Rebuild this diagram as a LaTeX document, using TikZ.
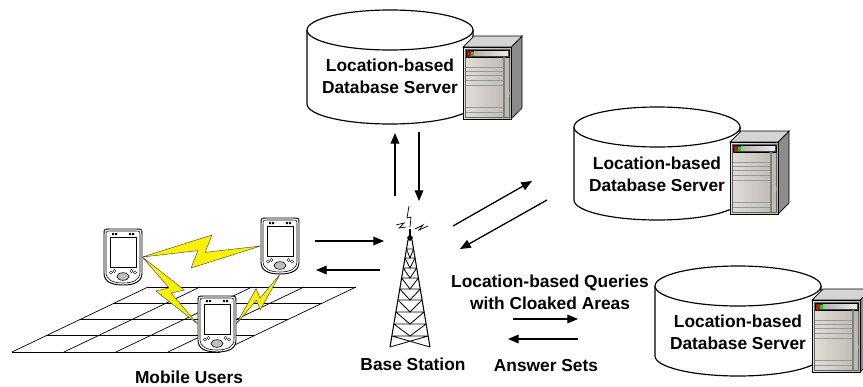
\documentclass[tikz,border=0pt]{standalone}
\usepackage{fontspec}
\setmainfont{Liberation Sans}
\usepackage{tikz}
\usetikzlibrary{calc,arrows.meta}

\definecolor{boltyellow}{RGB}{255,240,0}
\definecolor{casefront}{RGB}{226,223,216}
\definecolor{caseback}{RGB}{186,182,174}
\definecolor{caseside}{RGB}{140,140,140}
\definecolor{casetop}{RGB}{212,212,212}
\definecolor{ledred}{RGB}{230,0,0}
\definecolor{ledgreen}{RGB}{0,225,0}

\tikzset{
  flow/.style={-{Triangle[length=0.32cm,width=0.26cm]},line width=1.1pt},
  lbl/.style={font=\bfseries\fontsize{14.8}{18.8}\selectfont,align=center,inner sep=0pt},
  bolt/.style={fill=boltyellow,draw=black!70,line width=0.4pt},
  grid line/.style={line width=0.6pt},
}

% handheld: name, centre
\newcommand{\tikzPdaNode}[2]{
  \node[minimum width=1.14cm,minimum height=1.68cm,inner sep=0pt] (#1) at (#2) {};
  \begin{scope}[shift={(#2)}]
    \draw[fill=white,line width=0.8pt] (-19,-22) .. controls (-19,-28) .. (-13,-28) -- (13,-28)
      .. controls (19,-28) .. (19,-22) -- (19,16) .. controls (19,25) and (11,28) .. (0,28)
      .. controls (-11,28) and (-19,25) .. (-19,16) -- cycle;
    \draw[line width=0.5pt] (-17,-21) .. controls (-17,-26) .. (-12,-26) -- (12,-26)
      .. controls (17,-26) .. (17,-21) -- (17,15) .. controls (17,23) and (10,26) .. (0,26)
      .. controls (-10,26) and (-17,23) .. (-17,15) -- cycle;
    \draw[line width=0.5pt] (-13,-20) rectangle (13,10);
    \fill (-11,-24) rectangle (-9,-22) (-8,-24) rectangle (-6,-22)
          (6,-24) rectangle (8,-22) (9,-24) rectangle (11,-22);
    \draw[fill=gray!50,line width=0.5pt] (0,19.5) ellipse (6 and 3.8);
    \draw[line width=0.4pt] (-12,15.5) circle (1.6) (-8.5,14) circle (1.6)
          (8.5,14) circle (1.6) (12,15.5) circle (1.6);
  \end{scope}
}

% lightning between two points
\newcommand{\tikzBolt}[2]{
  \draw[bolt] (#1) -- ($(#1)!0.6!(#2) + (#1)!0.13!90:(#2) - (#1)$)
    -- ($(#1)!0.53!(#2) + (#1)!-0.01!90:(#2) - (#1)$)
    -- (#2)
    -- ($(#1)!0.4!(#2) + (#1)!-0.13!90:(#2) - (#1)$)
    -- ($(#1)!0.47!(#2) + (#1)!0.01!90:(#2) - (#1)$)
    -- cycle;
}

% database drum: name, centre x, top y, bottom y, text y
\newcommand{\tikzDbNode}[5]{
  \draw[fill=white,line width=1pt] (#2-83,#3) -- (#2-83,#4)
    arc[start angle=180,end angle=0,x radius=83,y radius=20] -- (#2+83,#3);
  \draw[fill=white,line width=1pt] (#2,#3) ellipse (83 and 20);
  \node[lbl] (#1) at (#2,#5) {Location-based\\Database Server};
}

% server case: top left corner of the front
\newcommand{\tikzServerBox}[2]{
  \begin{scope}[shift={(#1,#2)}]
    \draw[fill=caseside,line width=0.6pt] (48,0) -- (59,-11) -- (59,61) -- (48,72) -- cycle;
    \draw[fill=casetop,line width=0.6pt] (0,0) -- (11,-11) -- (59,-11) -- (48,0) -- cycle;
    \draw[left color=casefront,right color=caseback,line width=0.8pt] (0,0) rectangle (48,72);
    \draw[black!60,line width=0.4pt] (2,2) rectangle (46,70);
    \draw[fill=black!75,line width=0.4pt] (3,3) rectangle (46,10);
    \fill[left color=gray!60,right color=gray!15] (11,4.5) rectangle (45,8.5);
    \fill[ledred] (4,4.5) rectangle (7.5,8.5);
    \fill[ledgreen] (7.5,4.5) rectangle (11,8.5);
    \foreach \v in {20,24,28,33,38,60,65}
      \draw[black!40,line width=0.5pt] (3,\v) -- (40,\v);
    \fill[black!25] (45,47) ellipse (1.5 and 4);
    \draw[black!50,line width=1.2pt] (41,10) -- (41,70);
    \fill[ledgreen] (41,63) circle (0.9);
  \end{scope}
}

\begin{document}
\begin{tikzpicture}[x=0.03cm,y=-0.03cm,semithick]
  \clip (0,0) rectangle (863,386);

  %cells under the users
  \foreach \f in {0,0.25,0.5,0.75,1} {
    \draw[grid line] ($(148,287)!\f!(12,352)$) -- ($(356,287)!\f!(220,352)$);
    \draw[grid line] ($(148,287)!\f!(356,287)$) -- ($(12,352)!\f!(220,352)$);
  }

  %users
  \tikzPdaNode{pda1}{123,257}
  \tikzPdaNode{pda2}{280,246}
  \tikzPdaNode{pda3}{217,324}
  \tikzBolt{pda1.east}{pda2.west}
  \tikzBolt{pda1.east}{pda3.west}
  \tikzBolt{pda3.east}{pda2.south}
  \node[lbl] (users) at (189,377) {Mobile Users};

  %base station
  \draw[line width=0.9pt] (410,229) -- (410,236);
  \fill (410,238) circle (2.8);
  \draw[line width=0.9pt] (408,240) -- (390,347) (412,240) -- (430,347);
  \foreach \ya/\yb in {249/258,258/268,268/278,278/289,289/300,300/312,312/324,324/336} {
    \pgfmathsetmacro\la{408-18*(\ya-240)/107}
    \pgfmathsetmacro\ra{412+18*(\ya-240)/107}
    \draw[line width=0.7pt] (\la,\ya) -- (\ra,\ya) (\la,\ya) -- (410,\yb) -- (\ra,\ya);
  }
  \draw[line width=0.7pt] (391.9,336) -- (428.1,336) (391.9,336) -- (430,347)
    (428.1,336) -- (390,347);
  \draw[line width=0.6pt] (410,227) -- (411,217) -- (407,218) -- (409,206);
  \draw[line width=0.6pt] (396,225) -- (404,223) -- (399,228) -- (406,227);
  \draw[line width=0.6pt] (415,229) -- (423,225) -- (419,230) -- (428,226);
  \node[lbl] (bs) at (413,364) {Base Station};

  %servers
  \tikzDbNode{db1}{390}{30}{104}{76}
  \tikzServerBox{463}{47}
  \tikzDbNode{db2}{657}{127}{200}{174}
  \tikzServerBox{730}{142}
  \tikzDbNode{db3}{738}{286}{356}{332}
  \tikzServerBox{812}{300}

  %messages
  \coordinate (up s) at (395,196);   \coordinate (up e) at (395,133);
  \coordinate (down s) at (419,132); \coordinate (down e) at (419,201);
  \coordinate (in s) at (315,241);   \coordinate (in e) at (384,241);
  \coordinate (out s) at (380,270);  \coordinate (out e) at (316,270);
  \coordinate (to s) at (453,226);   \coordinate (to e) at (532,181);
  \coordinate (back s) at (547,200); \coordinate (back e) at (460,249);
  \coordinate (q s) at (513,319);    \coordinate (q e) at (578,319);
  \coordinate (a s) at (578,339);    \coordinate (a e) at (508,339);
  \draw[flow] (up s) -- (up e);
  \draw[flow] (down s) -- (down e);
  \draw[flow] (in s) -- (in e);
  \draw[flow] (out s) -- (out e);
  \draw[flow] (to s) -- (to e);
  \draw[flow] (back s) -- (back e);
  \draw[flow] (q s) -- (q e);
  \draw[flow] (a s) -- (a e);

  \node[lbl] (query) at (550,292) {Location-based Queries\\with Cloaked Areas};
  \node[lbl] (answer) at (546,366) {Answer Sets};
\end{tikzpicture}
\end{document}
